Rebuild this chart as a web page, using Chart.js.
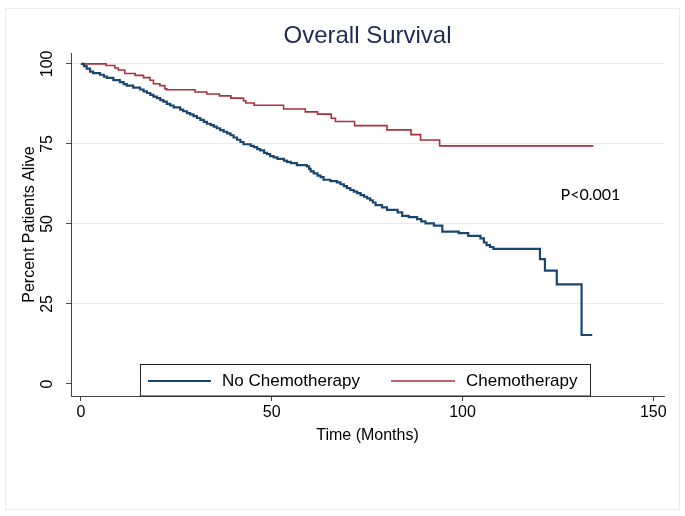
<!DOCTYPE html>
<html>
<head>
<meta charset="utf-8">
<title>Overall Survival</title>
<script src="https://cdn.jsdelivr.net/npm/chart.js@4.4.1/dist/chart.umd.min.js"></script>
<style>
  html, body { margin: 0; padding: 0; background: #fff; }
  #wrap { width: 685px; height: 516px; }
</style>
</head>
<body>
<div id="wrap"><canvas id="survivalChart" width="685" height="516"></canvas></div>
<script>
// Kaplan-Meier steps: month of each drop, percent alive after it
const noChemoMonths = [0, 0.8, 1.5, 2.4, 3.2, 5.0, 6.0, 6.8, 8.5, 10.2, 11.2, 12.0, 13.7, 15.5, 16.4, 17.3,
    18.2, 19.0, 19.9, 20.8, 21.6, 22.5, 23.4, 24.3, 26.0, 26.8, 27.8, 28.6, 29.5, 30.4, 31.3, 32.2, 33.0,
    34.0, 34.8, 35.6, 36.5, 37.4, 38.3, 39.2, 40.0, 40.9, 41.8, 42.6, 44.5, 45.3, 46.2, 47.0, 48.0, 48.8,
    49.6, 50.5, 51.5, 53.2, 54.0, 55.0, 56.6, 59.2, 59.8, 60.2, 61.0, 62.0, 62.8, 63.6, 65.4, 67.1, 68.0,
    68.9, 69.7, 70.6, 71.5, 72.4, 73.3, 74.2, 75.0, 75.8, 76.5, 77.2, 78.9, 80.2, 83.0, 84.2, 85.9, 88.1,
    89.2, 90.3, 92.5, 94.7, 99.0, 101.5, 104.7, 105.6, 106.3, 107.2, 108.1, 120.3, 121.6, 124.7, 131.2, 134.0];
const noChemoSurvival = [100, 99.3, 98.5, 97.6, 97.1, 96.6, 96.0, 95.6, 94.9, 94.3, 93.7, 93.2, 92.6, 92.0, 91.4, 90.9,
    90.3, 89.8, 89.3, 88.7, 88.2, 87.5, 87.0, 86.4, 85.7, 85.2, 84.6, 84.2, 83.7, 83.1, 82.5, 81.9, 81.3,
    80.9, 80.4, 79.9, 79.3, 78.8, 78.3, 77.7, 77.0, 76.3, 75.6, 74.9, 74.4, 74.0, 73.4, 73.0, 72.2, 71.8,
    71.2, 70.8, 70.3, 69.8, 69.4, 69.0, 68.4, 68.0, 67.2, 66.4, 65.8, 65.1, 64.6, 63.8, 63.4, 63.0, 62.4,
    61.8, 61.2, 60.6, 60.1, 59.6, 59.0, 58.5, 58.0, 57.4, 56.7, 55.9, 55.2, 54.4, 53.6, 52.5, 52.1, 51.5,
    50.8, 50.2, 49.5, 47.6, 47.1, 46.3, 45.5, 44.2, 43.4, 42.8, 42.2, 39.0, 35.4, 31.1, 15.3, 15.3];

const chemoMonths = [0, 6.6, 8.9, 9.8, 11.5, 14.2, 16.4, 18.1, 19.0, 20.7, 22.0, 22.5, 29.9, 33.0, 36.3,
    39.3, 42.6, 43.2, 45.4, 53.1, 58.8, 62.0, 65.6, 66.7, 71.7, 80.2, 86.5, 89.0, 94.0, 134.3];
const chemoSurvival = [100, 99.5, 98.7, 98.1, 97.0, 96.4, 95.7, 94.9, 93.8, 93.2, 92.2, 91.9, 91.2, 90.6, 90.0,
    89.3, 88.5, 87.8, 87.1, 85.9, 85.0, 84.3, 83.0, 82.0, 80.7, 79.4, 77.9, 76.2, 74.4, 74.4];

const seriesLabels = ['No Chemotherapy', 'Chemotherapy'];
const seriesColors = ['#1a476f', '#a8323d'];
const xTicks = [0, 50, 100, 150];
const yTicks = [0, 25, 50, 75, 100];
const pValueText = 'P<0.001';
const pValueAt = [125.7, 59.1]; // month, percent

const FONT = '"Liberation Sans", Arial, sans-serif';

function toPoints(xs, ys) {
    return xs.map((x, i) => ({ x: x, y: ys[i] }));
}

// title, rotated y labels, legend box and p-value, drawn in Stata style
const decorPlugin = {
    id: 'decor',
    afterDraw(chart) {
        const ctx = chart.ctx;
        const area = chart.chartArea;
        const xs = chart.scales.x;
        const ys = chart.scales.y;
        ctx.save();

        // faint outer frame
        ctx.strokeStyle = '#ececec';
        ctx.lineWidth = 1;
        ctx.strokeRect(5.5, 8.5, 674, 501);

        // title
        ctx.fillStyle = '#1e2b55';
        ctx.font = '24px ' + FONT;
        ctx.textAlign = 'center';
        ctx.textBaseline = 'middle';
        ctx.fillText('Overall Survival', (area.left + area.right) / 2, 36);

        // y tick labels, rotated like the original
        ctx.fillStyle = '#000';
        ctx.font = '16px ' + FONT;
        ys.ticks.forEach(t => {
            ctx.save();
            ctx.translate(48, ys.getPixelForValue(t.value));
            ctx.rotate(-Math.PI / 2);
            ctx.fillText(String(t.value), 0, 0);
            ctx.restore();
        });

        // p-value note
        ctx.font = '16px Lato, "Open Sans", sans-serif';
        ctx.textAlign = 'left';
        ctx.fillText(pValueText, xs.getPixelForValue(pValueAt[0]), ys.getPixelForValue(pValueAt[1]));

        // legend box sitting on the x axis
        const boxL = 140.5, boxR = 590.5, boxT = 364.5, boxB = area.bottom;
        ctx.fillStyle = '#fff';
        ctx.fillRect(boxL, boxT, boxR - boxL, boxB - boxT);
        ctx.strokeStyle = '#222';
        ctx.lineWidth = 1;
        ctx.strokeRect(boxL, boxT, boxR - boxL, boxB - boxT);

        const rowY = 381;
        const entries = [[148, 211, 222], [391, 455, 466]];
        chart.data.datasets.forEach((ds, i) => {
            const e = entries[i];
            ctx.strokeStyle = ds.borderColor;
            ctx.lineWidth = ds.borderWidth;
            ctx.beginPath();
            ctx.moveTo(e[0], rowY);
            ctx.lineTo(e[1], rowY);
            ctx.stroke();
            ctx.fillStyle = '#000';
            ctx.font = '17px ' + FONT;
            ctx.textAlign = 'left';
            ctx.textBaseline = 'middle';
            ctx.fillText(ds.label, e[2], rowY);
        });

        ctx.restore();
    }
};

const ctx = document.getElementById('survivalChart').getContext('2d');

new Chart(ctx, {
    type: 'line',
    data: {
        datasets: [
            {
                label: seriesLabels[0],
                data: toPoints(noChemoMonths, noChemoSurvival),
                borderColor: seriesColors[0],
                borderWidth: 2.2,
                stepped: 'before',
                pointRadius: 0,
                fill: false
            },
            {
                label: seriesLabels[1],
                data: toPoints(chemoMonths, chemoSurvival),
                borderColor: seriesColors[1],
                borderWidth: 1.6,
                stepped: 'before',
                pointRadius: 0,
                fill: false
            }
        ]
    },
    options: {
        responsive: false,
        animation: false,
        layout: { padding: { top: 53, right: 21, left: 0, bottom: 0 } },
        plugins: {
            legend: { display: false },
            title: { display: false },
            tooltip: { enabled: false }
        },
        scales: {
            x: {
                type: 'linear',
                min: -2.6,
                max: 152.8,
                afterBuildTicks: scale => { scale.ticks = xTicks.map(v => ({ value: v })); },
                afterFit: scale => { scale.height = 120; },
                border: { color: '#444', width: 1 },
                grid: { drawOnChartArea: false, tickColor: '#444', tickLength: 5 },
                ticks: { color: '#000', font: { family: FONT, size: 16 }, padding: 2, maxRotation: 0 },
                title: {
                    display: true,
                    text: 'Time (Months)',
                    color: '#000',
                    font: { family: FONT, size: 16 },
                    padding: { top: 0, bottom: 71 }
                }
            },
            y: {
                type: 'linear',
                min: -3.75,
                max: 103.4,
                afterBuildTicks: scale => { scale.ticks = yTicks.map(v => ({ value: v })); },
                afterFit: scale => { scale.width = 71; },
                border: { color: '#444', width: 1 },
                grid: {
                    color: c => (c.tick && c.tick.value === 0) ? 'rgba(0,0,0,0)' : '#e4eef1',
                    tickColor: '#444',
                    tickLength: 5
                },
                ticks: { display: false },
                title: {
                    display: true,
                    text: 'Percent Patients Alive',
                    color: '#000',
                    font: { family: FONT, size: 16 },
                    padding: { top: 20, bottom: 0 }
                }
            }
        }
    },
    plugins: [decorPlugin]
});
</script>
</body>
</html>
